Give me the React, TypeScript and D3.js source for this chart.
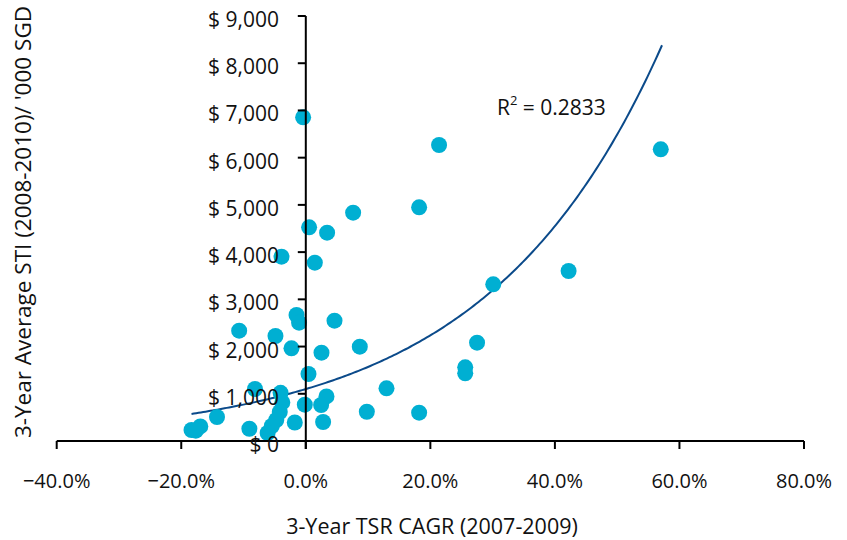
import React from "react";
import * as d3 from "d3";

// TSR CAGR (2007-2009), as fraction
const tsr: number[] = [
  -0.0043, 0.214, 0.570, 0.182, 0.076, 0.0053, 0.0342, -0.039, 0.0145, 0.422,
  0.301, -0.0149, -0.0108, 0.0461, -0.107, -0.0487, 0.275, 0.0867, -0.023, 0.0252,
  0.256, 0.256, 0.0043, -0.0816, 0.1296, -0.0405, 0.0332, -0.0377, -0.0016, 0.0246,
  -0.0418, 0.098, 0.182, -0.1426, -0.0474, -0.0177, 0.0278, -0.1694, -0.1835, -0.1766,
  -0.0906, -0.0546, -0.0613,
];
// 3-year average STI ('000 SGD)
const sti: number[] = [
  6855, 6268, 6177, 4949, 4835, 4525, 4411, 3903, 3776, 3600,
  3318, 2668, 2505, 2548, 2336, 2223, 2082, 1997, 1963, 1870,
  1561, 1434, 1419, 1101, 1116, 1021, 944, 817, 769, 762,
  614, 620, 599, 508, 445, 392, 402, 309, 233, 218,
  260, 318, 169,
];

const xTicks: number[] = [-0.4, -0.2, 0, 0.2, 0.4, 0.6, 0.8];
const yTicks: number[] = [0, 1000, 2000, 3000, 4000, 5000, 6000, 7000, 8000, 9000];

// exponential trendline y = a * exp(b * x)
const trendA = 1100;
const trendB = 3.55;
const trendRange: [number, number] = [-0.1835, 0.572];
const r2Label = "0.2833";

const xTitle = "3-Year TSR CAGR (2007-2009)";
const yTitle = "3-Year Average STI (2008-2010)/ '000 SGD";

export default function App() {
  const W = 847;
  const H = 540;
  const x = d3.scaleLinear().domain([-0.4, 0.8]).range([56.7, 804]);
  const y = d3.scaleLinear().domain([0, 9000]).range([441, 16]);
  const font = "'Open Sans', sans-serif";

  const trendPts = d3.range(0, 201).map((i) => {
    const xv = trendRange[0] + ((trendRange[1] - trendRange[0]) * i) / 200;
    return [xv, trendA * Math.exp(trendB * xv)] as [number, number];
  });
  const line = d3
    .line<[number, number]>()
    .x((d) => x(d[0]))
    .y((d) => y(d[1]))
    .curve(d3.curveLinear);

  const x0 = x(0);
  const fmtY = (v: number) => "$ " + d3.format(",")(v);
  const fmtX = (v: number) => d3.format(".1f")(v * 100) + "%";

  return (
    <svg
      width={W}
      height={H}
      style={{ position: "fixed", left: 0, top: 0, background: "#fff" }}
      fontFamily={font}
    >
      <rect x={0} y={0} width={W} height={H} fill="#fff" />
      {/* trendline */}
      <path d={line(trendPts) || ""} fill="none" stroke="#0B4A8A" strokeWidth={2} />
      {/* points */}
      {tsr.map((t, i) => (
        <circle key={i} cx={x(t)} cy={y(sti[i])} r={8} fill="#00AFD2" />
      ))}
      {/* x axis */}
      <line x1={x(-0.4)} x2={x(0.8)} y1={y(0)} y2={y(0)} stroke="#000" strokeWidth={2} />
      {xTicks.map((t) => (
        <g key={t}>
          <line x1={x(t)} x2={x(t)} y1={y(0)} y2={y(0) + 8} stroke="#000" strokeWidth={2} />
          <text x={x(t)} y={488} textAnchor="middle" fontSize={20} fill="#111">
            {fmtX(t)}
          </text>
        </g>
      ))}
      {/* y axis */}
      <line x1={x0} x2={x0} y1={y(9000)} y2={y(0) + 8} stroke="#000" strokeWidth={2} />
      {yTicks.map((t) => (
        <g key={t}>
          <line x1={x0 - 8} x2={x0} y1={y(t)} y2={y(t)} stroke="#000" strokeWidth={2} />
          <text x={279} y={y(t) + 11} textAnchor="end" fontSize={21} fill="#111">
            {fmtY(t)}
          </text>
        </g>
      ))}
      {/* R² label */}
      <text x={497} y={115} fontSize={21} fill="#111">
        R
        <tspan fontSize={13} dy={-10}>2</tspan>
        <tspan dy={10}> = {r2Label}</tspan>
      </text>
      {/* titles */}
      <text x={432} y={534} textAnchor="middle" fontSize={21.5} fill="#111">
        {xTitle}
      </text>
      <text
        transform={`translate(31, 222) rotate(-90)`}
        textAnchor="middle"
        fontSize={22.5}
        fill="#111"
      >
        {yTitle}
      </text>
    </svg>
  );
}
